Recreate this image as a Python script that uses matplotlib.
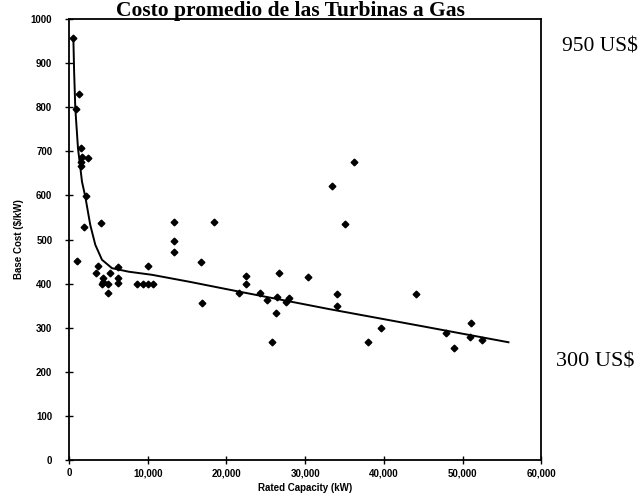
import matplotlib
matplotlib.use('Agg')
import matplotlib.pyplot as plt
from matplotlib.ticker import FuncFormatter

# Scatter of turbine base cost vs rated capacity
capacity_kw = [550, 1270, 890, 1480, 1690, 2450, 1520, 1520, 2120, 1870,
               4100, 970, 3720, 3380, 5200, 4270, 4360, 4230, 4990, 4910,
               6220, 6220, 6220, 10070, 8670, 9350, 10070, 10700, 13360, 13360,
               13360, 16750, 16920, 18440, 22550, 22460, 21570, 24240, 25210, 26480,
               26650, 26350, 25800, 27540, 27960, 30370, 36170, 33380, 35110, 34050,
               34050, 44080, 39590, 38030, 47840, 51100, 50930, 52500, 48970]
base_cost = [958, 831, 797, 708, 688, 684, 676, 667, 599, 528,
             538, 452, 440, 425, 425, 412, 404, 400, 400, 379,
             438, 412, 402, 440, 400, 400, 400, 400, 540, 497,
             472, 450, 355, 539, 418, 400, 379, 378, 363, 370,
             425, 333, 268, 359, 367, 416, 675, 621, 536, 376,
             350, 376, 300, 267, 288, 311, 280, 273, 255]

# Fitted curve
curve_kw = [550, 650, 800, 1140, 1650, 2070, 2700, 3340, 4190, 5460,
            7580, 10530, 15350, 21570, 33120, 45000, 55840]
curve_cost = [958, 880, 797, 707, 631, 597, 533, 488, 454, 435,
              427, 420, 404, 382, 342, 303, 267]

title = 'Costo promedio de las Turbinas a Gas'
note_top = '950 US$'
note_bottom = '300 US$'

fig = plt.figure(figsize=(6.42, 4.98), dpi=100)
ax = fig.add_axes([0.1075, 0.0763, 0.7355, 0.8855])

ax.plot(curve_kw, curve_cost, color='black', linewidth=1.4)
ax.plot(capacity_kw, base_cost, linestyle='none', marker='D', markersize=3.4,
        color='black')

ax.set_xlim(0, 60000)
ax.set_ylim(0, 1000)
ax.set_xticks(range(0, 60001, 10000))
ax.set_yticks(range(0, 1001, 100))
ax.xaxis.set_major_formatter(FuncFormatter(lambda v, p: '{:,.0f}'.format(v)))

for spine in ax.spines.values():
    spine.set_linewidth(1.3)
ax.tick_params(direction='inout', length=6, width=1, labelsize=7)
ax.tick_params(axis='y', pad=9)
ax.tick_params(axis='x', pad=3)
for lab in ax.get_xticklabels() + ax.get_yticklabels():
    lab.set_fontweight('bold')
    lab.set_family('Liberation Sans')

ax.set_xlabel('Rated Capacity (kW)', fontsize=7, fontweight='bold',
              family='Liberation Sans', labelpad=3)
ax.set_ylabel('Base Cost ($/kW)', fontsize=7, fontweight='bold',
              family='Liberation Sans', labelpad=5)

# Title hugs the top edge, as in the original slide
fig.text(0.452, 0.998, title, ha='center', va='top', fontsize=15.5,
         fontweight='bold', family='Liberation Serif')
fig.text(0.875, 1 - 47 / 498, note_top, ha='left', va='center', fontsize=15.5,
         family='Liberation Serif')
fig.text(0.866, 1 - 362 / 498, note_bottom, ha='left', va='center', fontsize=16,
         family='Liberation Serif')

fig.savefig('out.png', dpi=100)
